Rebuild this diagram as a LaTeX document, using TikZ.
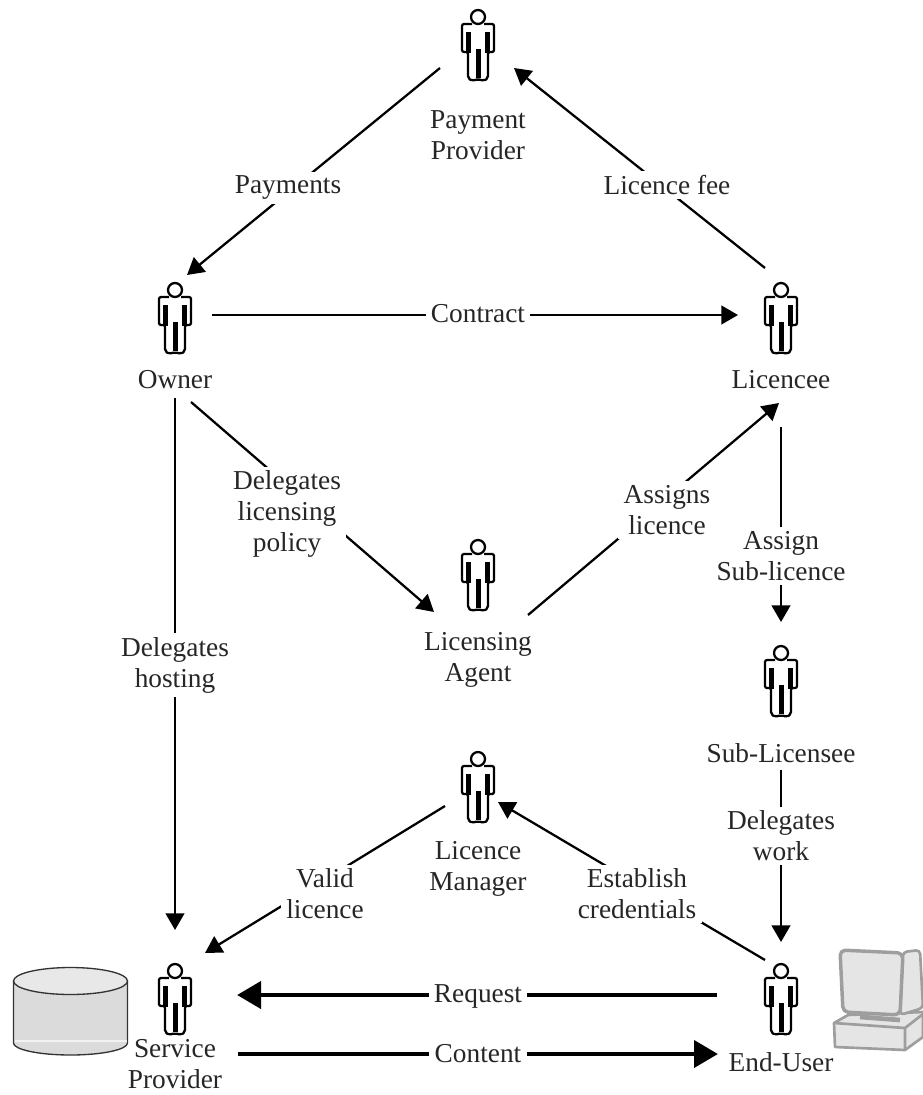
\documentclass[tikz,border=0pt]{standalone}
\usepackage{fontspec}
\setmainfont{Liberation Serif}
\usetikzlibrary{arrows.meta,calc}
\tikzset{
  x=0.75pt,y=-0.75pt,
  actornode/.style={circle,minimum size=54pt,inner sep=0pt,outer sep=0pt},
  caption/.style={align=center,font=\fontsize{20.5}{23.3}\selectfont,text=black!85,inner sep=0pt},
  flowlabel/.style={caption,fill=white,inner xsep=4pt,inner ysep=3pt},
  flow/.style={line width=1.7pt,-{Triangle[length=12.5pt,width=14pt]}},
  heavyflow/.style={line width=3.7pt,-{Triangle[length=18pt,width=20pt]}},
  figure line/.style={line width=1.7pt,black,line join=round},
  actor/.pic={
    \draw[figure line] (0,-29) circle (7);
    \draw[figure line,rounded corners=1.5pt]
      (-6,-22) -- (-16,-22) -- (-16,6) -- (-10,6) -- (-10,32) -- (-6,35) -- (0,33)
      -- (6,35) -- (10,32) -- (10,6) -- (16,6) -- (16,-22) -- (6,-22);
    \fill (-12,-14) rectangle (-7,7);
    \fill (7,-14) rectangle (12,7);
    \fill (-2.5,3) rectangle (2.5,32);
  }
}
\begin{document}
\begin{tikzpicture}
\useasboundingbox (0,0) rectangle (923,1095);
% actors
\node[actornode] (pay) at (478,46) {};
\node[actornode] (own) at (175,319) {};
\node[actornode] (lic) at (781,319) {};
\node[actornode] (agt) at (478,576) {};
\node[actornode] (sub) at (781,682) {};
\node[actornode] (mgr) at (478,788) {};
\node[actornode] (svc) at (175,1000) {};
\node[actornode] (usr) at (781,1000) {};
\foreach \n in {pay,own,lic,agt,sub,mgr,svc,usr} \pic at (\n.center) {actor};
% connectors
\draw[flow] ($(pay)+(-38,22)$) -- ($(own)+(12,-44)$);
\draw[flow] ($(lic)+(-16,-51)$) -- ($(pay)+(36,22)$);
\draw[flow] ($(own)+(37,-4)$) -- ($(lic)+(-43,-4)$);
\draw[flow] ($(own)+(16,83)$) -- ($(agt)+(-44,36)$);
\draw[flow] ($(agt)+(50,39)$) -- ($(lic)+(-2,84)$);
\draw[flow] ($(own)+(0,79)$) -- ($(svc)+(0,-70)$);
\draw[flow] ($(lic)+(0,108)$) -- ($(sub)+(0,-60)$);
\draw[flow] ($(sub)+(0,88)$) -- ($(usr)+(0,-58)$);
\draw[flow] ($(mgr)+(-33,18)$) -- ($(svc)+(30,-47)$);
\draw[flow] ($(usr)+(-16,-40)$) -- ($(mgr)+(20,14)$);
\draw[heavyflow] ($(usr)+(-64,-5)$) -- ($(svc)+(62,-5)$);
\draw[heavyflow] ($(svc)+(63,54)$) -- ($(usr)+(-63,54)$);
% actor captions
\node[caption] (tPay) at (478,135) {Payment\\Provider};
\node[caption] (tOwn) at (175,380) {Owner};
\node[caption] (tLic) at (781,380) {Licencee};
\node[caption] (tAgt) at (478,660) {Licensing\\Agent};
\node[caption] (tSub) at (781,753) {Sub-Licensee};
\node[caption] (tMgr) at (478,869) {Licence\\Manager};
\node[caption] (tSvc) at (175,1064) {Service\\Provider};
\node[caption] (tUsr) at (781,1062) {End-User};
% connector labels
\node[flowlabel] (l1) at (288,188) {Payments};
\node[flowlabel] (l2) at (667,185) {Licence fee};
\node[flowlabel] (l3) at (478,314) {Contract};
\node[flowlabel] (l4) at (287,514) {Delegates\\licensing\\policy};
\node[flowlabel] (l5) at (667,510) {Assigns\\licence};
\node[flowlabel] (l6) at (175,665) {Delegates\\hosting};
\node[flowlabel] (l7) at (781,556) {Assign\\Sub-licence};
\node[flowlabel] (l8) at (781,836) {Delegates\\work};
\node[flowlabel] (l9) at (325,894) {Valid\\licence};
\node[flowlabel] (l10) at (637,894) {Establish\\credentials};
\node[flowlabel] (l11) at (478,996) {Request};
\node[flowlabel] (l12) at (478,1054) {Content};
% database
\draw[line width=1pt,draw=black!80,fill=black!14]
  (13.5,981) -- (13.5,1043) arc[start angle=180,end angle=0,x radius=57,y radius=12]
  -- (127.5,981) -- cycle;
\draw[line width=1pt,draw=black!5] (14.5,1041) -- (126.5,1041);
\draw[line width=1pt,draw=black!80,fill=black!9] (70.5,981) ellipse (57 and 13.5);
% computer
\begin{scope}[draw=black!38,line width=2pt,line join=round,fill=black!10]
\filldraw (848,1015) -- (923,1012) -- (923,1037) -- (905,1050) -- (835,1047) -- (834,1023) -- cycle;
\draw (834,1023) -- (905,1028) -- (905,1050);
\draw (905,1028) -- (923,1014);
\filldraw[rounded corners=3pt] (903,952) -- (920,950) -- (923,1008) -- (900,1015) -- cycle;
\draw[line width=3.5pt] (860,1017) -- (900,1020);
\filldraw[rounded corners=4pt,line width=2.6pt] (840,950) -- (903,953) -- (900,1015) -- (843,1012) -- cycle;
\end{scope}
\end{tikzpicture}
\end{document}
